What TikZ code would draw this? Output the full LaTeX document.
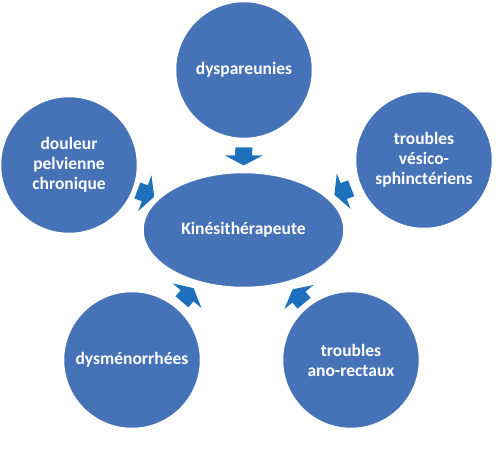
\documentclass[tikz,border=0pt]{standalone}
\usepackage{fontspec}
\setmainfont{Carlito}
\usetikzlibrary{shapes.geometric, calc, backgrounds}
\definecolor{discblue}{RGB}{70,114,184}
\definecolor{arrowblue}{RGB}{28,112,188}

\begin{document}
\begin{tikzpicture}[x=1pt, y=-1pt,
  disc/.style={circle, fill=discblue, draw=white, line width=1.5pt,
    minimum size=137pt, inner sep=0pt, text=white, align=center,
    font=\fontsize{17.5}{20}\selectfont\bfseries},
  hub/.style={disc, ellipse, minimum width=201pt, minimum height=115pt}]
\useasboundingbox (0, 0) rectangle (499, 461);
\node [hub] (kine) at (243.5, 230) {Kinésithérapeute};
\node [disc] (dysp) at (244, 70) {dyspareunies};
\node [disc] (douleur) at (69, 165) {douleur\\pelvienne\\chronique};
\node [disc] (vesico) at (424, 160) {troubles\\vésico-\\sphinctériens};
\node [disc] (dysmen) at (132, 360) {dysménorrhées};
\node [disc] (ano) at (351, 360) {troubles\\ano-rectaux};
\begin{scope}[on background layer]
\foreach \src/\f in {dysp/.54, douleur/.44, vesico/.45, dysmen/.5, ano/.49}
  \fill [arrowblue] let \p1 = ($(\src)!\f!(kine)$), \p2 = ($(kine) - (\src)$),
    \n1 = {atan2(\y2, \x2)} in [shift={(\p1)}, rotate=\n1]
    (-9, -8.5) -- (-1, -8.5) -- (-1, -19) -- (9, 0) -- (-1, 19) -- (-1, 8.5)
    -- (-9, 8.5) -- cycle;
\end{scope}
\end{tikzpicture}
\end{document}
